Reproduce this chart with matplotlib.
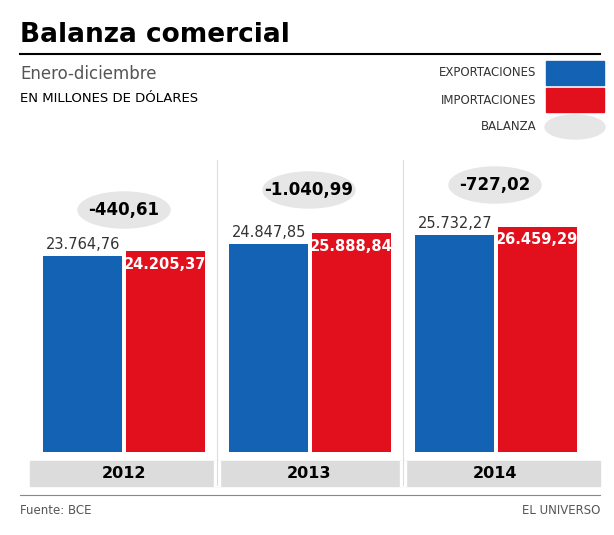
import matplotlib
matplotlib.use("Agg")
import matplotlib.pyplot as plt
from matplotlib.patches import Ellipse, Rectangle
import numpy as np

years = ["2012", "2013", "2014"]
exports = [23764.76, 24847.85, 25732.27]
imports = [24205.37, 25888.84, 26459.29]
balance = ["-440,61", "-1.040,99", "-727,02"]
exp_lbl = ["23.764,76", "24.847,85", "25.732,27"]
imp_lbl = ["24.205,37", "25.888,84", "26.459,29"]
bal_y = [210, 190, 185]

W, H = 614, 535
fig = plt.figure(figsize=(W/100, H/100), dpi=100)
fig.patch.set_facecolor("white")
BLUE, RED = "#1462b3", "#e1101c"

def fx(x): return x / W
def fy(y): return 1 - y / H

# axes: x from 31 to 589 px => groups 0..2 centered at 124, 309, 495
x0, x1 = 31, 589
ax = fig.add_axes([fx(x0), fy(452), fx(x1 - x0), (452 - 130) / H])
ax.set_xlim(-0.5, 2.5)
ax.set_ylim(5536, 35482)
ax.axis("off")
x = np.arange(3)
w = 0.425
ax.bar(x - 0.221, exports, w, color=BLUE)
ax.bar(x + 0.221, imports, w, color=RED)
for i in range(3):
    ax.text(i - 0.221, exports[i] + 400, exp_lbl[i], ha="center", va="bottom", fontsize=10.5, color="#333333")
    ax.text(i + 0.221, imports[i] - 500, imp_lbl[i], ha="center", va="top", fontsize=10.5, color="white", fontweight="bold")

# decorations in figure pixel space
o = fig.add_axes([0, 0, 1, 1]); o.set_xlim(0, W); o.set_ylim(H, 0); o.axis("off")
o.set_zorder(-1)
o.text(20, 35, "Balanza comercial", fontsize=19, fontweight="bold", va="center")
o.plot([20, 600], [54, 54], color="black", lw=1.5)
o.text(20, 74, "Enero-diciembre", fontsize=12, color="#555555", va="center")
o.text(20, 99, "EN MILLONES DE DÓLARES", fontsize=9.5, va="center")
legs = [("EXPORTACIONES", 73), ("IMPORTACIONES", 100), ("BALANZA", 127)]
o.add_patch(Rectangle((546, 61), 58, 24, color=BLUE))
o.add_patch(Rectangle((546, 88), 58, 24, color=RED))
o.add_patch(Ellipse((575, 127), 60, 24, color="#e6e6e6"))
for t, yy in legs:
    o.text(536, yy, t, ha="right", va="center", fontsize=8.5, color="#333333")
for xs in [217, 403]:
    o.plot([xs, xs], [160, 485], color="#dddddd", lw=0.8)
centers = [124, 309, 495]
o.add_patch(Rectangle((30, 461), 570, 25, color="#dcdcdc"))
for xs in [217, 403]:
    o.add_patch(Rectangle((xs - 3, 461), 6, 25, color="white"))
for c, yr, b, by in zip(centers, years, balance, bal_y):
    o.text(c, 474, yr, ha="center", va="center", fontsize=11.5, fontweight="bold")
fig.canvas.draw()
for c, b, by in zip(centers, balance, bal_y):
    fig.text(fx(c), fy(by), b, ha="center", va="center", fontsize=12, fontweight="bold", zorder=10)
    fig.patches.append(Ellipse((fx(c), fy(by)), 92 / W, 36 / H, transform=fig.transFigure,
                               color="#e6e6e6", zorder=5))
o.plot([20, 600], [495, 495], color="#888888", lw=0.8)
o.text(20, 510, "Fuente: BCE", fontsize=8.5, color="#555555", va="center")
o.text(600, 510, "EL UNIVERSO", fontsize=8.5, color="#555555", va="center", ha="right")
fig.savefig("out.png", dpi=100)
